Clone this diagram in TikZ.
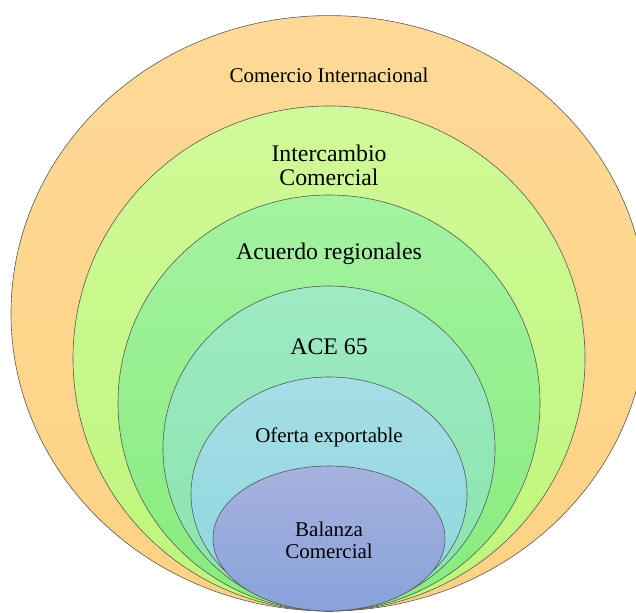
\documentclass[tikz,border=0pt]{standalone}
\usepackage{fontspec}
\setmainfont{Liberation Serif}
\newfontfamily\tnr{Liberation Serif}
\usetikzlibrary{shapes.geometric}
\tikzset{
  ell/.style={ellipse, draw=black!65, line width=0.6pt, inner sep=0pt, outer sep=0pt},
  lblA/.style={font=\tnr\fontsize{21}{21.5}\selectfont, align=center, inner sep=0pt},
  lblB/.style={font=\tnr\fontsize{23.8}{24.5}\selectfont, align=center, inner sep=0pt}
}
\begin{document}
\begin{tikzpicture}[x=1pt,y=1pt]
\useasboundingbox (0,0) rectangle (636,612);
\clip (0,0) rectangle (636,612);
\node[ell, top color={rgb,255:red,254;green,218;blue,150}, bottom color={rgb,255:red,254;green,210;blue,132}, minimum width=636pt, minimum height=595.4pt] (o1) at (329,298.7) {};
\node[ell, top color={rgb,255:red,208;green,250;blue,152}, bottom color={rgb,255:red,190;green,246;blue,122}, minimum width=512pt, minimum height=505pt] (o2) at (329,253.5) {};
\node[ell, top color={rgb,255:red,164;green,243;blue,160}, bottom color={rgb,255:red,134;green,236;blue,124}, minimum width=422pt, minimum height=416pt] (o3) at (329,209) {};
\node[ell, top color={rgb,255:red,158;green,234;blue,196}, bottom color={rgb,255:red,136;green,228;blue,170}, minimum width=332pt, minimum height=325pt] (o4) at (329,163.5) {};
\node[ell, top color={rgb,255:red,166;green,221;blue,230}, bottom color={rgb,255:red,140;green,216;blue,222}, minimum width=276pt, minimum height=234pt] (o5) at (329,118) {};
\node[ell, top color={rgb,255:red,166;green,178;blue,222}, bottom color={rgb,255:red,136;green,162;blue,218}, minimum width=232pt, minimum height=145pt] (o6) at (329,73.5) {};
\node[lblA] (t1) at (329,537) {Comercio Internacional};
\node[lblB] (t2) at (329,446.5) {Intercambio\\Comercial};
\node[lblB] (t3) at (329,358) {Acuerdo regionales};
\node[lblB] (t4) at (329,265) {ACE 65};
\node[lblA] (t5) at (329,174.5) {Oferta exportable};
\node[lblA] (t6) at (329,71.5) {Balanza\\Comercial};
\end{tikzpicture}
\end{document}
